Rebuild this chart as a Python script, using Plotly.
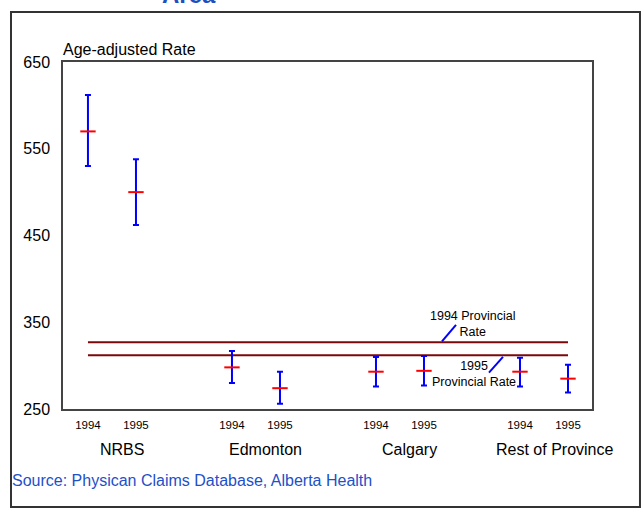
import plotly.graph_objects as go

# ---- data ----
regions = ["NRBS", "Edmonton", "Calgary", "Rest of Province"]
years = ["1994", "1995"]
rate = [570, 500, 298, 274, 293, 294, 293, 285]
upper = [612, 538, 317, 293, 310, 311, 309, 301]
lower = [530, 462, 280, 256, 276, 277, 276, 269]
prov_rate_1994 = 327
prov_rate_1995 = 312
y_ticks = [250, 350, 450, 550, 650]

FONT = "Liberation Sans, Arial, sans-serif"

# positions: two years per region, gap between regions
xpos = []
tick_text = []
for g, _ in enumerate(regions):
    for k, yr in enumerate(years):
        xpos.append(1 + 3 * g + k)
        tick_text.append(yr)
group_centers = [1 + 3 * g + 0.5 for g in range(len(regions))]

fig = go.Figure()

# provincial rate lines
for val in (prov_rate_1994, prov_rate_1995):
    fig.add_trace(go.Scatter(
        x=[xpos[0], xpos[-1]], y=[val, val], mode="lines",
        line=dict(color="#7a0a0a", width=2), hoverinfo="skip", showlegend=False))

# rates with CI
fig.add_trace(go.Scatter(
    x=xpos, y=rate, mode="markers",
    marker=dict(symbol="line-ew", size=11, line=dict(color="#ff0000", width=2)),
    error_y=dict(type="data", symmetric=False,
                 array=[u - r for u, r in zip(upper, rate)],
                 arrayminus=[r - l for r, l in zip(rate, lower)],
                 color="#0000ff", thickness=2, width=3),
    showlegend=False))

annotations = []
for gc, name in zip(group_centers, regions):
    annotations.append(dict(x=gc, y=0, xref="x", yref="paper", yanchor="middle",
                            yshift=-40, xshift=10, text=name, showarrow=False,
                            font=dict(family=FONT, size=16, color="#000")))

annotations += [
    dict(x=0, y=1, xref="paper", yref="paper", xanchor="left", yanchor="middle",
         yshift=13, xshift=-2, text="Age-adjusted Rate", showarrow=False,
         font=dict(family=FONT, size=16, color="#000")),
    dict(x=0, y=0, xref="paper", yref="paper", xanchor="left", yanchor="middle",
         xshift=-53, yshift=-71, text="Source: Physican Claims Database, Alberta Health",
         showarrow=False, font=dict(family=FONT, size=16, color="#1e50c8")),
    dict(x=9.02, y=348, xref="x", yref="y", text="1994 Provincial<br>Rate",
         showarrow=False, font=dict(family=FONT, size=12.5, color="#000")),
    dict(x=9.04, y=290, xref="x", yref="y", text="1995<br>Provincial Rate",
         showarrow=False, font=dict(family=FONT, size=12.5, color="#000")),
    dict(x=0.183, y=1, xref="paper", yref="paper", yanchor="middle", yshift=68,
         text="<b>Area</b>", showarrow=False,
         font=dict(family=FONT, size=24, color="#1f4fbf")),
]

shapes = [
    # leader lines
    dict(type="line", xref="x", yref="y", x0=8.375, y0=328, x1=8.667, y1=347,
         line=dict(color="#0000ff", width=2)),
    dict(type="line", xref="x", yref="y", x0=9.354, y0=292, x1=9.646, y1=310,
         line=dict(color="#0000ff", width=2)),
    # outer frame
    dict(type="rect", xref="paper", yref="paper", x0=-0.0983, x1=1.0907,
         y0=-0.2824, y1=1.1441, line=dict(color="#333333", width=2), layer="below"),
]

fig.update_layout(
    width=642, height=508,
    margin=dict(l=63, r=50, t=62, b=99),
    paper_bgcolor="white", plot_bgcolor="white",
    font=dict(family=FONT, color="#000"),
    showlegend=False,
    annotations=annotations, shapes=shapes,
    xaxis=dict(range=[0.48, 11.5], tickvals=xpos, ticktext=tick_text,
               showgrid=False, zeroline=False, showline=True, mirror=True,
               linecolor="#444", linewidth=1.5, ticks="", ticklabelstandoff=4,
               tickfont=dict(family=FONT, size=11.5, color="#000")),
    yaxis=dict(range=[250, 650], tickvals=y_ticks, ticktext=[str(v) for v in y_ticks],
               showgrid=False, zeroline=False, showline=True, mirror=True,
               linecolor="#444", linewidth=1.5, ticks="", ticklabelstandoff=8,
               tickfont=dict(family=FONT, size=16, color="#000")),
)

fig.write_html("out.html", config={"displayModeBar": False},
               post_script="document.body.style.margin='0';document.body.style.overflow='hidden';")
